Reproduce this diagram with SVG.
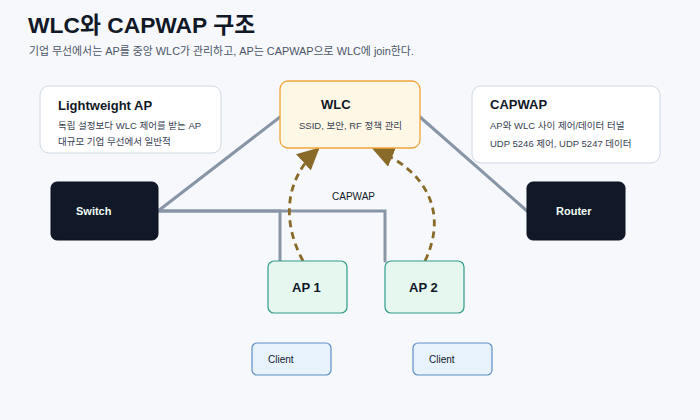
<svg xmlns="http://www.w3.org/2000/svg" width="700" height="420" viewBox="0 0 700 420">
<style>
text{font-family:"Liberation Sans","Noto Sans CJK KR",sans-serif}
.title{font-size:22.8px;font-weight:bold;fill:#111827}
.sub{font-size:10.9px;fill:#4a5568}
.h{font-size:13px;font-weight:bold;fill:#111827}
.d{font-size:9.5px;fill:#374151}
.card{fill:#ffffff;stroke:#cfd8e3;stroke-width:1}
.dark{fill:#111827;stroke:#0b1220;stroke-width:1}
.wt{font-size:11px;font-weight:bold;fill:#f0fdf4}
.ap{fill:#e6f7f0;stroke:#2f9c88;stroke-width:1.2}
.apt{font-size:13px;font-weight:bold;fill:#111827}
.cl{fill:#e8f2fd;stroke:#5b8fc7;stroke-width:1.2}
.clt{font-size:10px;fill:#111827}
.wire{fill:none;stroke:#8795a6;stroke-width:3;stroke-linecap:round;stroke-linejoin:miter}
.cap{fill:none;stroke:#8a6a28;stroke-width:2.8;stroke-dasharray:7 5}
</style>
<defs>
<marker id="ah" viewBox="0 0 10 10" refX="9" refY="5" markerWidth="22" markerHeight="22" markerUnits="userSpaceOnUse" orient="auto">
<path d="M0,0 L10,5 L0,10 z" fill="#8a6a28"/>
</marker>
</defs>
<rect width="700" height="420" fill="#f7f8fc"/>
<text class="title" x="28" y="33">WLC와 CAPWAP 구조</text>
<text class="sub" x="29" y="55">기업 무선에서는 AP를 중앙 WLC가 관리하고, AP는 CAPWAP으로 WLC에 join한다.</text>

<g id="connectors">
<path class="wire" d="M158,211 L280,117"/>
<path class="wire" d="M420,117 L527,211"/>
<path class="wire" d="M158,211 H280 V261"/>
<path class="wire" d="M158,211 H385 V261"/>
<path class="cap" d="M303,261 C282,222 284,180 318,149" marker-end="url(#ah)"/>
<path class="cap" d="M425,261 C447,215 430,172 374,149" marker-end="url(#ah)"/>
<text class="clt" x="332" y="200">CAPWAP</text>
</g>

<g id="lightweight-ap">
<rect class="card" x="40" y="86" width="181" height="67" rx="9"/>
<text class="h" x="58" y="110">Lightweight AP</text>
<text class="d" x="58" y="129">독립 설정보다 WLC 제어를 받는 AP</text>
<text class="d" x="58" y="145">대규모 기업 무선에서 일반적</text>
</g>

<g id="wlc">
<rect x="280" y="81" width="140" height="67" rx="8" fill="#fff7e6" stroke="#f0a53a" stroke-width="1.3"/>
<text class="h" x="321" y="109">WLC</text>
<text class="d" x="299" y="129">SSID, 보안, RF 정책 관리</text>
</g>

<g id="capwap-info">
<rect class="card" x="472" y="86" width="188" height="77" rx="9"/>
<text class="h" x="490" y="109">CAPWAP</text>
<text class="d" x="490" y="129">AP와 WLC 사이 제어/데이터 터널</text>
<text class="d" x="490" y="147">UDP 5246 제어, UDP 5247 데이터</text>
</g>

<g id="switch">
<rect class="dark" x="51" y="182" width="107" height="58" rx="6"/>
<text class="wt" x="76" y="215">Switch</text>
</g>

<g id="router">
<rect class="dark" x="527" y="182" width="98" height="58" rx="6"/>
<text class="wt" x="556" y="215">Router</text>
</g>

<g id="ap1">
<rect class="ap" x="268" y="261" width="79" height="52" rx="6"/>
<text class="apt" x="292" y="292">AP 1</text>
</g>

<g id="ap2">
<rect class="ap" x="385" y="261" width="79" height="52" rx="6"/>
<text class="apt" x="409" y="292">AP 2</text>
</g>

<g id="client1">
<rect class="cl" x="252" y="343" width="79" height="32" rx="5"/>
<text class="clt" x="268" y="363">Client</text>
</g>

<g id="client2">
<rect class="cl" x="413" y="343" width="79" height="32" rx="5"/>
<text class="clt" x="429" y="363">Client</text>
</g>
</svg>
